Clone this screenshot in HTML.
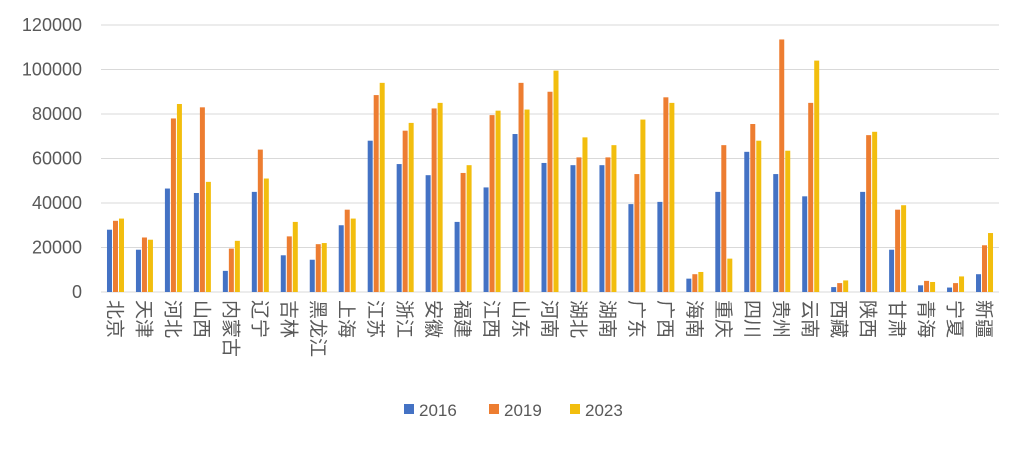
<!DOCTYPE html>
<html><head><meta charset="utf-8"><style>
body{margin:0;background:#fff;}
svg text{font-family:"Liberation Sans","Noto Sans CJK SC",sans-serif;fill:#595959;}
</style></head><body>
<svg id="chart" width="1024" height="444" xmlns="http://www.w3.org/2000/svg"></svg>
<script>
const categories=["北京","天津","河北","山西","内蒙古","辽宁","吉林","黑龙江","上海","江苏","浙江","安徽","福建","江西","山东","河南","湖北","湖南","广东","广西","海南","重庆","四川","贵州","云南","西藏","陕西","甘肃","青海","宁夏","新疆"];
const s2016=[28000,19000,46500,44500,9500,45000,16500,14500,30000,68000,57500,52500,31500,47000,71000,58000,57000,57000,39500,40500,6000,45000,63000,53000,43000,2200,45000,19000,3000,2000,8000];
const s2019=[32000,24500,78000,83000,19500,64000,25000,21500,37000,88500,72500,82500,53500,79500,94000,90000,60500,60500,53000,87500,8000,66000,75500,113500,85000,4000,70500,37000,5000,4000,21000];
const s2023=[33000,23500,84500,49500,23000,51000,31500,22000,33000,94000,76000,85000,57000,81500,82000,99500,69500,66000,77500,85000,9000,15000,68000,63500,104000,5200,72000,39000,4500,7000,26500];
const seriesNames=["2016","2019","2023"];
const yTicks=[0,20000,40000,60000,80000,100000,120000];
const colors=["#4472C4","#ED7D31","#F2BE0E"];
const svg=document.getElementById('chart');
const NS="http://www.w3.org/2000/svg";
const x0=101,x1=999,y0=292,y1=25,ymax=120000;
const y=v=>y0-(v/ymax)*(y0-y1);
const cw=(x1-x0)/categories.length;
function mk(tag,attrs,parent){const e=document.createElementNS(NS,tag);for(const k in attrs)e.setAttribute(k,attrs[k]);(parent||svg).appendChild(e);return e;}
yTicks.forEach(t=>{
 const l=mk('line',{x1:x0,x2:x1,y1:y(t),y2:y(t),stroke:'#d9d9d9','stroke-width':1});
 
 
 const tx=mk('text',{x:82,y:y(t)+6,'text-anchor':'end','font-size':18});
 tx.textContent=t;
 
 
});
const series=[s2016,s2019,s2023];
const bw=5,gap=1;
categories.forEach((c,i)=>{
 const cx=x0+cw*(i+0.5);
 series.forEach((s,j)=>{
  const bx=cx-(3*bw+2*gap)/2+j*(bw+gap);
  const r=mk('rect',{x:bx,y:y(s[j===0?i:i]),width:bw,height:y0-y(s[i]),fill:colors[j]});
  r.setAttribute('y',y(s[i]));
  
  
 });
 const t=mk('text',{x:cx,y:300,'font-size':19,style:'writing-mode:vertical-rl;text-orientation:sideways;'});
 t.setAttribute('transform','rotate(90 '+cx+' 300) translate(0 7)');
 t.removeAttribute('style');
 t.textContent=c;
 
 
});
const lx=[404,489,570];
seriesNames.forEach((n,j)=>{
 const g=mk('g',{});
 
 
 mk('rect',{x:lx[j],y:404,width:10,height:10,fill:colors[j]},g);
 const t=mk('text',{x:lx[j]+15,y:416,'font-size':17},g);
 t.textContent=n;
});
</script>
</body></html>
